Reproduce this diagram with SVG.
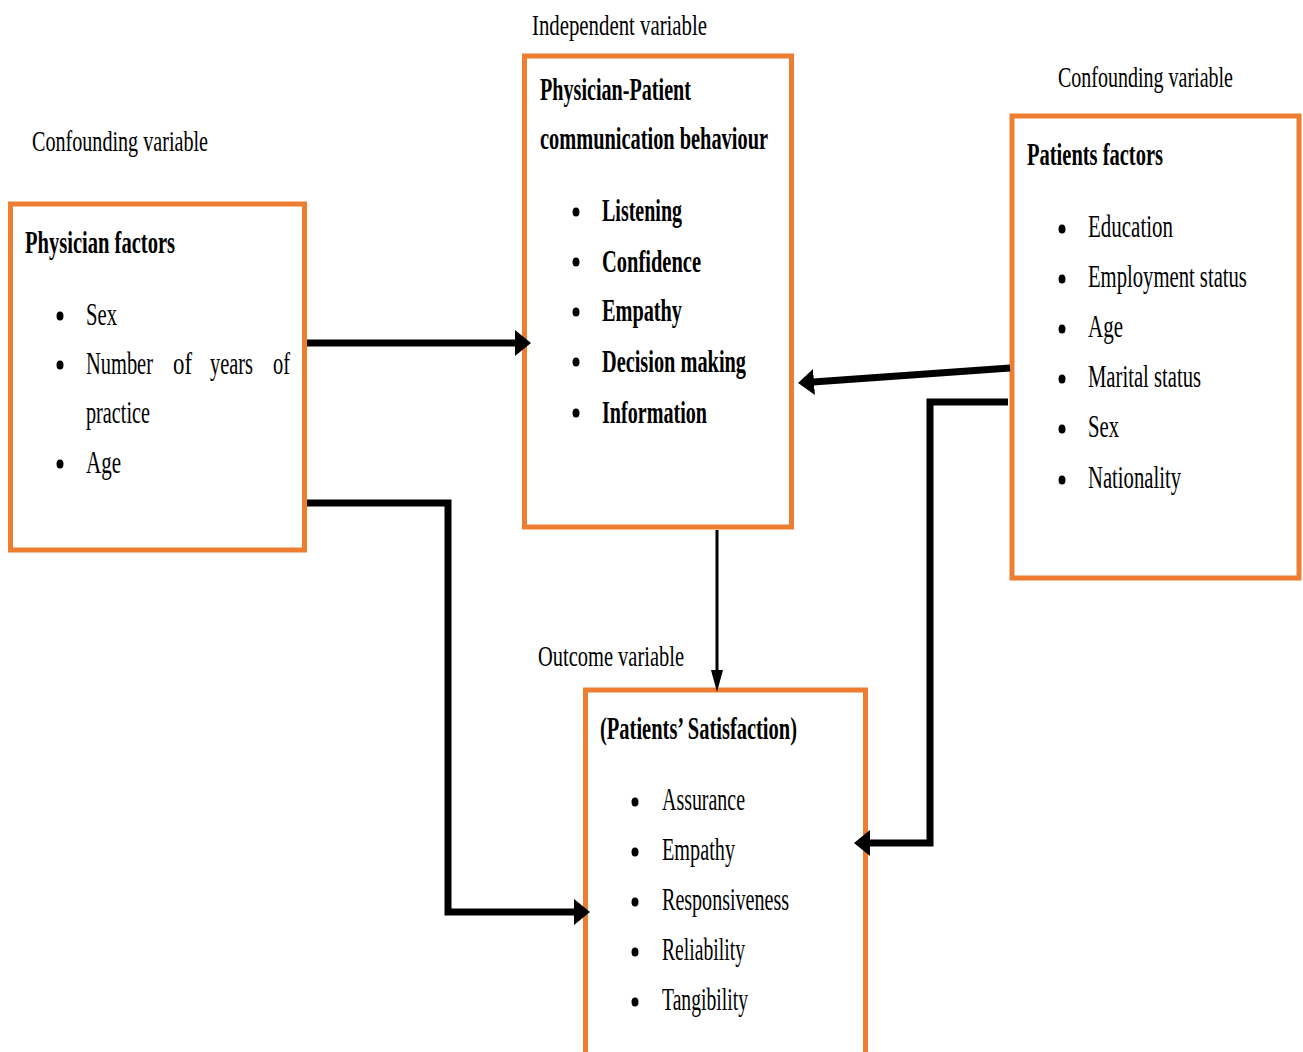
<svg xmlns="http://www.w3.org/2000/svg" width="1303" height="1052" viewBox="0 0 1303 1052">
<style>
text{font-family:"Liberation Serif","Times New Roman",serif;fill:#000}
.lbl{font-size:29px}
.hd{font-size:32px;font-weight:bold}
.it{font-size:32px}
.itb{font-size:32px;font-weight:bold}
.box{fill:#fff;stroke:#ED7D31;stroke-width:5}
.bul{fill:#000}
.con{fill:none;stroke:#000;stroke-width:7}
.thin{fill:none;stroke:#000;stroke-width:3}
</style>
<defs>
<marker id="ah" markerUnits="userSpaceOnUse" viewBox="0 0 16 26" refX="1" refY="13" markerWidth="16" markerHeight="26" orient="auto">
<path d="M0,0 L16,13 L0,26 z" fill="#000"/>
</marker>
<marker id="ahs" markerUnits="userSpaceOnUse" viewBox="0 0 22 12" refX="1" refY="6" markerWidth="22" markerHeight="12" orient="auto">
<path d="M0,0 L22,6 L0,12 z" fill="#000"/>
</marker>
</defs>
<rect width="1303" height="1052" fill="#fff"/>

<g id="labels">
<text class="lbl" x="532" y="35" textLength="175" lengthAdjust="spacingAndGlyphs">Independent variable</text>
<text class="lbl" x="32" y="151" textLength="176" lengthAdjust="spacingAndGlyphs">Confounding variable</text>
<text class="lbl" transform="translate(1058,87) scale(0.69,1)" x="0" y="0" textLength="253.6" lengthAdjust="spacingAndGlyphs">Confounding variable</text>
<text class="lbl" x="538" y="666" textLength="146" lengthAdjust="spacingAndGlyphs">Outcome variable</text>
</g>

<g id="physician-factors">
<rect class="box" x="10.5" y="204" width="294" height="346"/>
<text class="hd" x="25" y="253" textLength="150" lengthAdjust="spacingAndGlyphs">Physician factors</text>
<ellipse class="bul" cx="60" cy="316" rx="3.5" ry="4.5"/>
<ellipse class="bul" cx="60" cy="365" rx="3.5" ry="4.5"/>
<ellipse class="bul" cx="60" cy="464" rx="3.5" ry="4.5"/>
<text class="it" x="86" y="325" textLength="31" lengthAdjust="spacingAndGlyphs">Sex</text>
<text class="it" transform="translate(86,374) scale(0.7,1)" x="0" y="0" textLength="95.7" lengthAdjust="spacingAndGlyphs">Number</text>
<text class="it" transform="translate(173,374) scale(0.7,1)" x="0" y="0" textLength="27.1" lengthAdjust="spacingAndGlyphs">of</text>
<text class="it" transform="translate(210,374) scale(0.7,1)" x="0" y="0" textLength="61.4" lengthAdjust="spacingAndGlyphs">years</text>
<text class="it" transform="translate(273,374) scale(0.7,1)" x="0" y="0" textLength="24.3" lengthAdjust="spacingAndGlyphs">of</text>
<text class="it" x="86" y="423" textLength="64" lengthAdjust="spacingAndGlyphs">practice</text>
<text class="it" x="86" y="473" textLength="35" lengthAdjust="spacingAndGlyphs">Age</text>
</g>

<g id="communication-behaviour">
<rect class="box" x="524.5" y="56" width="267" height="471"/>
<text class="hd" x="540" y="100" textLength="151" lengthAdjust="spacingAndGlyphs">Physician-Patient</text>
<text class="hd" x="540" y="149" textLength="228" lengthAdjust="spacingAndGlyphs">communication behaviour</text>
<ellipse class="bul" cx="576" cy="212" rx="3.5" ry="4.5"/>
<ellipse class="bul" cx="576" cy="262" rx="3.5" ry="4.5"/>
<ellipse class="bul" cx="576" cy="312" rx="3.5" ry="4.5"/>
<ellipse class="bul" cx="576" cy="362" rx="3.5" ry="4.5"/>
<ellipse class="bul" cx="576" cy="413" rx="3.5" ry="4.5"/>
<text class="itb" x="602" y="221" textLength="80" lengthAdjust="spacingAndGlyphs">Listening</text>
<text class="itb" x="602" y="272" textLength="99" lengthAdjust="spacingAndGlyphs">Confidence</text>
<text class="itb" x="602" y="321" textLength="80" lengthAdjust="spacingAndGlyphs">Empathy</text>
<text class="itb" x="602" y="372" textLength="144" lengthAdjust="spacingAndGlyphs">Decision making</text>
<text class="itb" x="602" y="423" textLength="105" lengthAdjust="spacingAndGlyphs">Information</text>
</g>

<g id="patients-factors">
<rect class="box" x="1012" y="116" width="287" height="462"/>
<text class="hd" x="1027" y="165" textLength="136" lengthAdjust="spacingAndGlyphs">Patients factors</text>
<ellipse class="bul" cx="1062" cy="229" rx="3.5" ry="4.5"/>
<ellipse class="bul" cx="1062" cy="279" rx="3.5" ry="4.5"/>
<ellipse class="bul" cx="1062" cy="329" rx="3.5" ry="4.5"/>
<ellipse class="bul" cx="1062" cy="379" rx="3.5" ry="4.5"/>
<ellipse class="bul" cx="1062" cy="429" rx="3.5" ry="4.5"/>
<ellipse class="bul" cx="1062" cy="480" rx="3.5" ry="4.5"/>
<text class="it" x="1088" y="237" textLength="85" lengthAdjust="spacingAndGlyphs">Education</text>
<text class="it" transform="translate(1088,287) scale(0.646,1)" x="0" y="0" textLength="246" lengthAdjust="spacingAndGlyphs">Employment status</text>
<text class="it" x="1088" y="337" textLength="35" lengthAdjust="spacingAndGlyphs">Age</text>
<text class="it" x="1088" y="387" textLength="113" lengthAdjust="spacingAndGlyphs">Marital status</text>
<text class="it" x="1088" y="437" textLength="31" lengthAdjust="spacingAndGlyphs">Sex</text>
<text class="it" x="1088" y="488" textLength="93" lengthAdjust="spacingAndGlyphs">Nationality</text>
</g>

<g id="patients-satisfaction">
<rect class="box" x="585.5" y="690" width="280" height="400"/>
<text class="hd" x="600" y="739" textLength="197" lengthAdjust="spacingAndGlyphs">(Patients’ Satisfaction)</text>
<ellipse class="bul" cx="635" cy="802" rx="3.5" ry="4.5"/>
<ellipse class="bul" cx="635" cy="852" rx="3.5" ry="4.5"/>
<ellipse class="bul" cx="635" cy="902" rx="3.5" ry="4.5"/>
<ellipse class="bul" cx="635" cy="952" rx="3.5" ry="4.5"/>
<ellipse class="bul" cx="635" cy="1002" rx="3.5" ry="4.5"/>
<text class="it" x="662" y="810" textLength="83" lengthAdjust="spacingAndGlyphs">Assurance</text>
<text class="it" x="662" y="860" textLength="73" lengthAdjust="spacingAndGlyphs">Empathy</text>
<text class="it" x="662" y="910" textLength="127" lengthAdjust="spacingAndGlyphs">Responsiveness</text>
<text class="it" x="662" y="960" textLength="83" lengthAdjust="spacingAndGlyphs">Reliability</text>
<text class="it" x="662" y="1010" textLength="86" lengthAdjust="spacingAndGlyphs">Tangibility</text>
</g>

<g id="connectors">
<path class="con" d="M307,343 L516,343" marker-end="url(#ah)"/>
<path class="con" d="M1010,368 L813,382" marker-end="url(#ah)"/>
<path class="con" d="M1008,402 L930,402 L930,843 L869,843" marker-end="url(#ah)"/>
<path class="con" d="M307,503 L448,503 L448,912 L575,912" marker-end="url(#ah)"/>
<path class="thin" d="M717,530 L717,671" marker-end="url(#ahs)"/>
</g>
</svg>
